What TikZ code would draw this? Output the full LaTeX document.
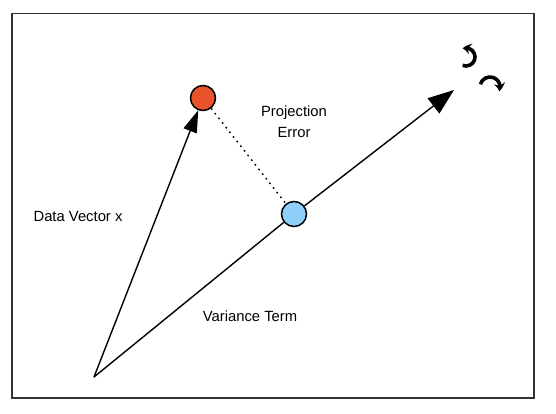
\documentclass[tikz,border=0pt]{standalone}
\usepackage{fontspec}
\setmainfont{Liberation Sans}
\usetikzlibrary{arrows.meta,bending}
\definecolor{redfill}{HTML}{E9532B}
\definecolor{bluefill}{HTML}{8FD0FA}
\definecolor{framecol}{HTML}{333333}
\begin{document}
\begin{tikzpicture}[x=1pt,y=-1pt,
  vecline/.style={line width=1.4pt,black},
  pointnode/.style={circle,draw=black,line width=1.5pt,minimum size=25pt,inner sep=0pt},
  lbl/.style={font=\fontsize{14.8}{21}\selectfont,inner sep=0pt,align=center},
  rotarrow/.style={line width=3.6pt,-{Stealth[length=8pt,width=11pt,bend]}}
]
\useasboundingbox (0,0) rectangle (556,414);
\draw[framecol,line width=1.7pt] (12,13.5) rectangle (534,398);

\coordinate (O) at (94,377);
\coordinate (T) at (454,90);
\node[pointnode,fill=redfill] (red) at (203,98) {};
\node[pointnode,fill=bluefill] (blue) at (294,214) {};

\draw[vecline,-{Triangle[length=22pt,width=14pt]}] (O) -- (red);
\draw[vecline] (O) -- (blue);
\draw[vecline,-{Triangle[length=26pt,width=19pt]}] (blue) -- (T);
\draw[line width=1.4pt,dash pattern=on 1.7pt off 4.2pt] (red) -- (blue);

\node[lbl] (dv) at (78,216.5) {Data Vector x};
\node[lbl] (pe) at (294,122) {Projection\\Error};
\node[lbl] (vt) at (250,316) {Variance Term};

\coordinate (c1) at (466,57);
\coordinate (c2) at (490,87);
\draw[rotarrow] ([shift={(112:9)}]c1) arc[start angle=112,end angle=-112,radius=9];
\draw[rotarrow] ([shift={(196:10)}]c2) arc[start angle=196,end angle=385,radius=10];
\end{tikzpicture}
\end{document}
